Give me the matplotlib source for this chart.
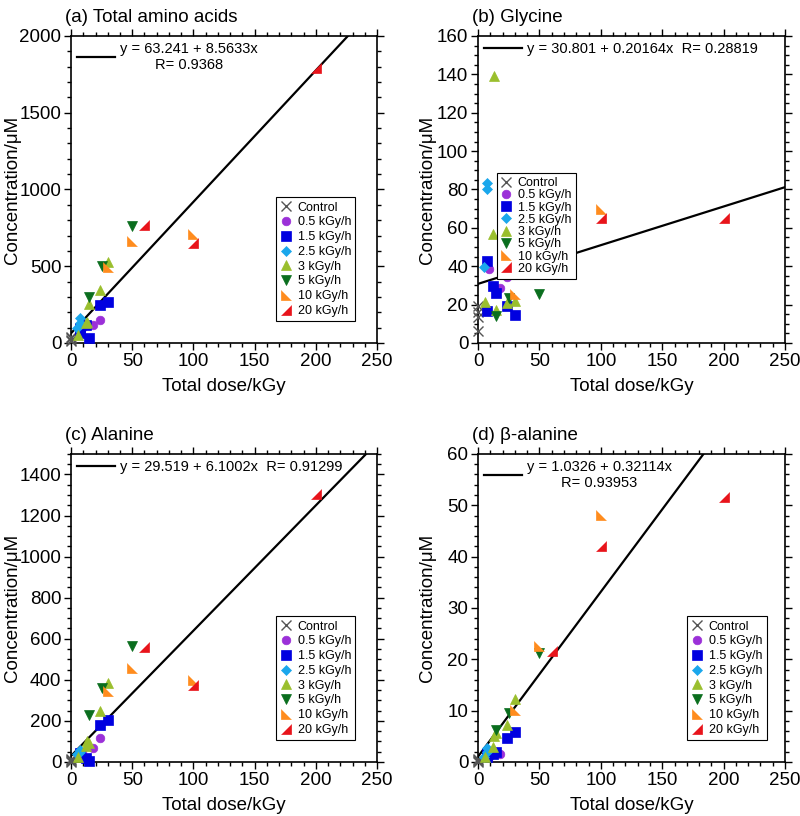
import matplotlib
matplotlib.use("Agg")
import matplotlib.pyplot as plt
from matplotlib.lines import Line2D
from matplotlib.ticker import MultipleLocator

plt.rcParams['font.family'] = ['Liberation Sans', 'DejaVu Sans']

# ---- data ----
# doses (kGy) per dose-rate series
ctrl_dose = [0, 0, 0, 0]
d05 = [9, 18, 24]
d15 = [7.5, 7.5, 12, 15, 24, 30]
d25 = [5, 7.5, 7.5]
d3 = [6, 12, 13, 15, 24, 30]
d5 = [15, 25, 50]
d10 = [30, 50, 100]
d20 = [60, 100, 200]

series_names = ["Control", "0.5 kGy/h", "1.5 kGy/h", "2.5 kGy/h",
                "3 kGy/h", "5 kGy/h", "10 kGy/h", "20 kGy/h"]
series_doses = [ctrl_dose, d05, d15, d25, d3, d5, d10, d20]

# (a) total amino acids
total_ctrl = [10, 20, 30, 40]
total_05 = [100, 115, 150]
total_15 = [63, 100, 120, 30, 247, 269]
total_25 = [100, 160, 130]
total_3 = [52, 128, 139, 254, 345, 530]
total_5 = [302, 501, 760]
total_10 = [493, 667, 710]
total_20 = [770, 650, 1790]

# (b) glycine
gly_ctrl = [6.4, 13.3, 15.9, 19.4]
gly_05 = [38.4, 28.4, 34.5]
gly_15 = [42.8, 16.8, 29.8, 26.3, 19.4, 14.5]
gly_25 = [39.8, 80, 83.5]
gly_3 = [21.6, 56.6, 139, 17.3, 20.8, 22]
gly_5 = [14.2, 23.2, 25.5]
gly_10 = [25.4, 42.2, 70]
gly_20 = [36.4, 65.3, 65]

# (c) alanine
ala_ctrl = [0, 5, 10, 15]
ala_05 = [50, 70, 115]
ala_15 = [30, 45, 20, 5, 180, 205]
ala_25 = [40, 60, 50]
ala_3 = [25, 80, 100, 90, 250, 386]
ala_5 = [229, 362, 565]
ala_10 = [346, 456, 400]
ala_20 = [559, 375, 1305]

# (d) beta-alanine
bala_ctrl = [0, 0.2, 0.3, 0.5]
bala_05 = [1.0, 1.5, 4.6]
bala_15 = [1.5, 1.0, 1.5, 2.0, 4.6, 5.9]
bala_25 = [1.0, 2.7, 2.0]
bala_3 = [1.0, 3.0, 5.0, 5.7, 7.2, 12.2]
bala_5 = [6.2, 9.5, 21.3]
bala_10 = [10.1, 22.6, 48.2]
bala_20 = [21.7, 42.1, 51.6]

# linear fits (intercept, slope, R)
fit_total = (63.241, 8.5633, "0.9368")
fit_gly = (30.801, 0.20164, "0.28819")
fit_ala = (29.519, 6.1002, "0.91299")
fit_bala = (1.0326, 0.32114, "0.93953")

# ---- styles ----
tri_ll = [(-1, 1), (-1, -1), (1, -1)]   # 10 kGy/h
tri_lr = [(1, 1), (1, -1), (-1, -1)]    # 20 kGy/h
markers = ['x', 'o', 's', 'D', '^', 'v', tri_ll, tri_lr]
colors = ['#555555', '#9B30D8', '#0000E0', '#1AA7EC', '#9ABF2D',
          '#0A6E1E', '#FF8C1E', '#E8141B']
sizes = [6.5, 6.2, 7.2, 4.6, 7.2, 7.2, 6.8, 6.8]

panels = [
    dict(title="(a) Total amino acids", pos=[0.0888, 0.5797, 0.3825, 0.3762],
         ys=[total_ctrl, total_05, total_15, total_25, total_3, total_5, total_10, total_20],
         fit=fit_total, ylim=2000, ymaj=500, ymin=100, two_line=True, ylx=-0.165,
         leg=dict(loc='lower right', bbox_to_anchor=(0.95, 0.05), labelspacing=0.22)),
    dict(title="(b) Glycine", pos=[0.5975, 0.5797, 0.3838, 0.3762],
         ys=[gly_ctrl, gly_05, gly_15, gly_25, gly_3, gly_5, gly_10, gly_20],
         fit=fit_gly, ylim=160, ymaj=20, ymin=5, two_line=False, ylx=-0.138,
         leg=dict(loc='upper left', bbox_to_anchor=(0.04, 0.575), labelspacing=0.02)),
    dict(title="(c) Alanine", pos=[0.0888, 0.0662, 0.3825, 0.3775],
         ys=[ala_ctrl, ala_05, ala_15, ala_25, ala_3, ala_5, ala_10, ala_20],
         fit=fit_ala, ylim=1500, ymaj=200, ymin=50, two_line=False, ylx=-0.165,
         leg=dict(loc='lower right', bbox_to_anchor=(0.95, 0.05), labelspacing=0.22)),
    dict(title="(d) β-alanine", pos=[0.5975, 0.0662, 0.3838, 0.3775],
         ys=[bala_ctrl, bala_05, bala_15, bala_25, bala_3, bala_5, bala_10, bala_20],
         fit=fit_bala, ylim=60, ymaj=10, ymin=2, two_line=True, ylx=-0.138,
         leg=dict(loc='lower right', bbox_to_anchor=(0.96, 0.05), labelspacing=0.22)),
]

fig = plt.figure(figsize=(8, 8.16), dpi=100)

for p in panels:
    ax = fig.add_axes(p["pos"])
    handles = []
    for name, xs, ys, m, c, s in zip(series_names, series_doses, p["ys"],
                                     markers, colors, sizes):
        h, = ax.plot(xs, ys, ls='none', marker=m, ms=s, color=c, mec=c,
                     mew=1.0 if name == "Control" else 0.5, label=name,
                     clip_on=False, zorder=3)
        handles.append(h)

    a, b, r = p["fit"]
    fx = [0, 250]
    ax.plot(fx, [a + b * v for v in fx], color='black', lw=1.6, zorder=2)

    ax.set_xlim(0, 250)
    ax.set_ylim(0, p["ylim"])
    ax.xaxis.set_major_locator(MultipleLocator(50))
    ax.xaxis.set_minor_locator(MultipleLocator(10))
    ax.yaxis.set_major_locator(MultipleLocator(p["ymaj"]))
    ax.yaxis.set_minor_locator(MultipleLocator(p["ymin"]))
    ax.tick_params(which='both', direction='out', top=True, right=True,
                   labelsize=13.5, width=1.0, pad=2)
    ax.tick_params(which='major', length=5)
    ax.tick_params(which='minor', length=3)
    for sp in ax.spines.values():
        sp.set_linewidth(1.2)

    ax.set_xlabel("Total dose/kGy", fontsize=13.5, labelpad=6)
    ax.set_ylabel("Concentration/μM", fontsize=13.5)
    ax.yaxis.set_label_coords(p["ylx"], 0.5)
    ax.set_title(p["title"], loc='left', x=-0.02, fontsize=13.5, pad=10)

    # equation legend
    if p["two_line"]:
        eq = "y = %s + %sx\nR= %s" % (a, b, r)
    else:
        eq = "y = %s + %sx  R= %s" % (a, b, r)
    eq_h = Line2D([], [], color='black', lw=1.6)
    leg1 = ax.legend([eq_h], [eq], loc='upper left', frameon=False,
                     fontsize=10.5, handlelength=2.6, handletextpad=0.35,
                     borderaxespad=0.1, borderpad=0.3)
    for t in leg1.get_texts():
        t.set_multialignment('center')
    ax.add_artist(leg1)

    leg2 = ax.legend(handles=handles, fontsize=9, frameon=True,
                     fancybox=False, edgecolor='black', framealpha=1,
                     handlelength=0.8, handletextpad=0.55,
                     borderpad=0.35, **p["leg"])
    leg2.get_frame().set_linewidth(0.8)

fig.savefig("out.png", dpi=100)
